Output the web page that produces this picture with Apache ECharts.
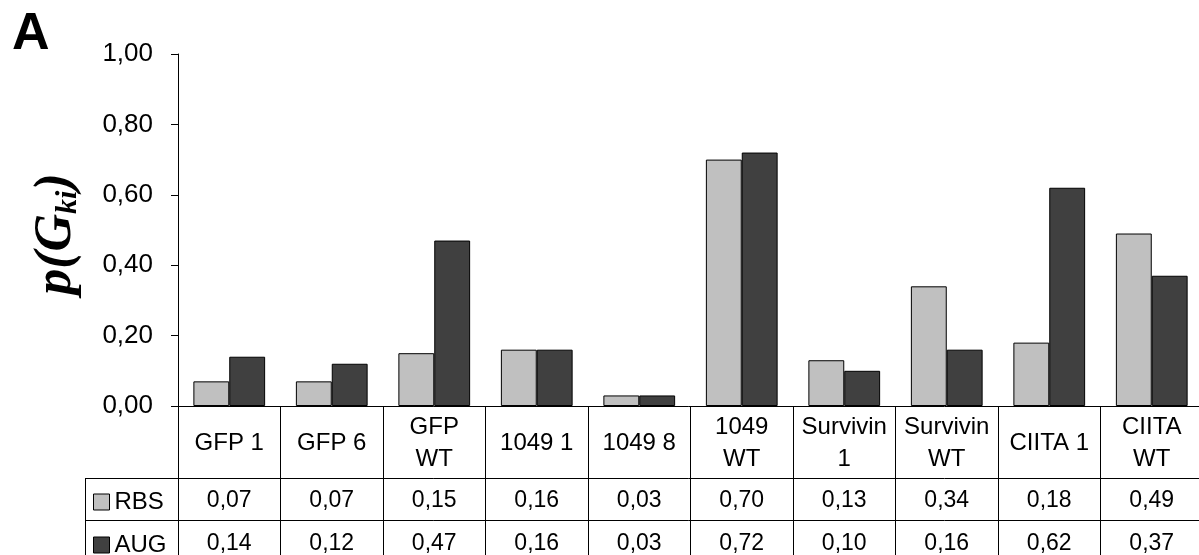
<!DOCTYPE html>
<html><head><meta charset="utf-8">
<script src="https://cdn.jsdelivr.net/npm/echarts@6/dist/echarts.min.js"></script>
<style>html,body{margin:0;padding:0;background:#fff}#c{width:1199px;height:555px}</style>
</head><body><div id="c"></div>
<script>
const categories = ['GFP 1','GFP 6','GFP\nWT','1049 1','1049 8','1049\nWT','Survivin\n1','Survivin\nWT','CIITA 1','CIITA\nWT'];
const seriesNames = ['RBS','AUG'];
const rbs = [0.07,0.07,0.15,0.16,0.03,0.70,0.13,0.34,0.18,0.49];
const aug = [0.14,0.12,0.47,0.16,0.03,0.72,0.10,0.16,0.62,0.37];

const FONT = "'Liberation Sans', Arial, sans-serif";
const SERIF = "'Liberation Serif', 'Times New Roman', serif";
const fmt = v => v.toFixed(2).replace('.', ',');

const GL = 178, GT = 54, GB = 149, GR = -4;
const H = 555;
const HEAD = 72, ROW = 42;
const TABLE_LEFT = 85;
const y0 = H - GB;

const chart = echarts.init(document.getElementById('c'), null, {renderer: 'canvas'});

function tableAxis(offset, tickLen, labelFn, margin, fontSize, lineHeight) {
  return {
    type: 'category', data: categories, position: 'bottom', offset: offset,
    axisLine: {show: true, lineStyle: {color: '#000', width: 1}},
    axisTick: {show: true, interval: 0, length: tickLen, alignWithLabel: false, lineStyle: {color: '#000', width: 1}},
    axisLabel: {show: true, interval: 0, formatter: labelFn, margin: margin, fontSize: fontSize,
      lineHeight: lineHeight, color: '#000', fontFamily: FONT, verticalAlign: 'middle', align: 'center'},
    splitLine: {show: false}
  };
}

function legendRow(name, top) {
  return {
    data: [name], orient: 'vertical', left: 93, top: top, padding: 0,
    itemWidth: 16, itemHeight: 16, icon: 'rect',
    itemStyle: {borderColor: '#000', borderWidth: 1},
    textStyle: {fontSize: 24, color: '#000', fontFamily: FONT, lineHeight: 20},
    selectedMode: false
  };
}

const option = {
  animation: false,
  backgroundColor: '#fff',
  grid: {left: GL, right: GR, top: GT, bottom: GB, containLabel: false, outerBoundsMode: 'none'},
  legend: [legendRow(seriesNames[0], y0 + HEAD + 12), legendRow(seriesNames[1], y0 + HEAD + ROW + 13)],
  xAxis: [
    tableAxis(0, HEAD, v => v, HEAD / 2 + 1, 24, 32),
    tableAxis(HEAD, ROW, (v, i) => fmt(rbs[i]), ROW / 2 + 2, 23, 26),
    tableAxis(HEAD + ROW, 60, (v, i) => fmt(aug[i]), ROW / 2 + 3, 23, 26)
  ],
  yAxis: {
    type: 'value', min: 0, max: 1, interval: 0.2,
    axisLine: {show: true, lineStyle: {color: '#000', width: 1}},
    axisTick: {show: true, length: 7, lineStyle: {color: '#000', width: 1}},
    axisLabel: {formatter: v => fmt(v), fontSize: 26, color: '#000', fontFamily: FONT, margin: 25},
    splitLine: {show: false}
  },
  series: [
    {name: 'RBS', type: 'bar', data: rbs, xAxisIndex: 0, barGap: '0%', barCategoryGap: '30%',
     itemStyle: {color: '#C0C0C0', borderColor: '#000', borderWidth: 1}, emphasis: {disabled: true}},
    {name: 'AUG', type: 'bar', data: aug, xAxisIndex: 0, barGap: '0%', barCategoryGap: '30%',
     itemStyle: {color: '#404040', borderColor: '#000', borderWidth: 1}, emphasis: {disabled: true}}
  ],
  graphic: [
    {type: 'text', x: 12, y: 35, style: {text: 'A', fontSize: 52, fontWeight: 'bold', fontFamily: FONT,
      fill: '#000', align: 'left', verticalAlign: 'middle', textAlign: 'left', textVerticalAlign: 'middle'}},
    {type: 'text', x: 57, y: 234, rotation: Math.PI / 2,
      style: {text: '{a|p(G}{b|ki}{a|)}', align: 'center', verticalAlign: 'middle', textAlign: 'center', textVerticalAlign: 'middle',
        fill: '#000',
        rich: {
          a: {fontSize: 52, fontWeight: 'bold', fontStyle: 'italic', fontFamily: SERIF, lineHeight: 52, verticalAlign: 'middle'},
          b: {fontSize: 30, fontWeight: 'bold', fontStyle: 'italic', fontFamily: SERIF, lineHeight: 14, verticalAlign: 'bottom'}
        }}},
    {type: 'line', shape: {x1: TABLE_LEFT + 0.5, y1: y0 + HEAD, x2: TABLE_LEFT + 0.5, y2: H + 5}, style: {stroke: '#000', lineWidth: 1}},
    {type: 'line', shape: {x1: TABLE_LEFT, y1: y0 + HEAD + 0.5, x2: GL, y2: y0 + HEAD + 0.5}, style: {stroke: '#000', lineWidth: 1}},
    {type: 'line', shape: {x1: TABLE_LEFT, y1: y0 + HEAD + ROW + 0.5, x2: GL, y2: y0 + HEAD + ROW + 0.5}, style: {stroke: '#000', lineWidth: 1}}
  ]
};
chart.setOption(option);
</script>
</body></html>
